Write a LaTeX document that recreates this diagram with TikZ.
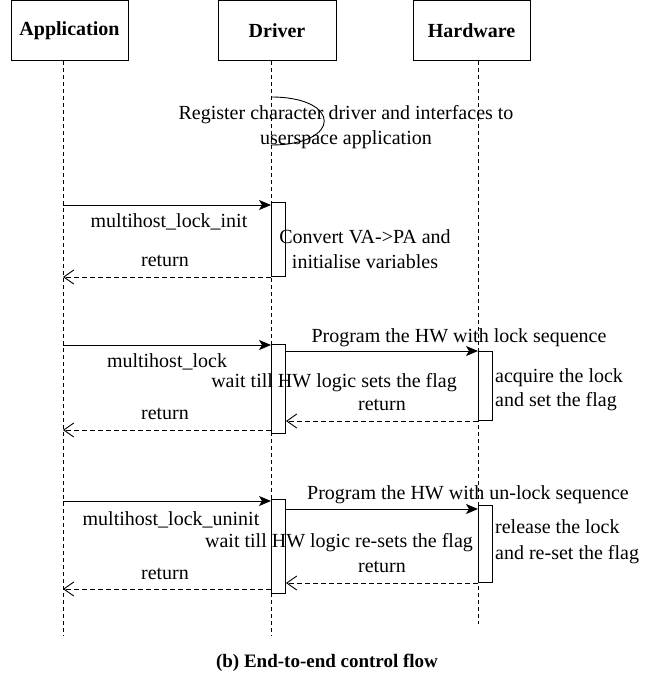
\documentclass[tikz,border=0pt]{standalone}
\usepackage{fontspec}
\setmainfont{Liberation Serif}
\usetikzlibrary{arrows.meta}

\begin{document}
\begin{tikzpicture}[x=1pt,y=-1pt,
  txt/.style={inner sep=0pt, font=\fontsize{20}{25}\selectfont},
  header/.style={draw, line width=1pt, minimum width=117pt, minimum height=60pt,
    inner sep=0pt, font=\fontsize{20}{24}\selectfont\bfseries},
  lifeline/.style={line width=0.9pt, dash pattern=on 4pt off 3pt},
  actbox/.style={draw, fill=white, line width=1pt, minimum width=14pt,
    inner sep=0pt, anchor=north west},
  call/.style={line width=0.9pt, -{Stealth[length=12pt,width=10pt,inset=3pt]}},
  ret/.style={line width=0.9pt, dash pattern=on 5pt off 3pt,
    -{Straight Barb[length=10pt,width=14pt]}},
]
\useasboundingbox (0,0) rectangle (653,679);

% participants
\node[header] (appH) at (69.5,31) {Application};
\node[header, minimum width=118pt] (drvH) at (277,31) {Driver};
\node[header] (hwH) at (471.5,31) {Hardware};

% lifelines
\coordinate (appTop) at (63,61);  \coordinate (appEnd) at (63,636);
\coordinate (drvTop) at (271,61); \coordinate (drvEnd) at (271,636);
\coordinate (hwTop)  at (478,61); \coordinate (hwEnd)  at (478,624);
\draw[lifeline] (appTop) -- (appEnd);
\draw[lifeline] (drvTop) -- (drvEnd);
\draw[lifeline] (hwTop) -- (hwEnd);

% driver registration (self call)
\coordinate (selfA) at (271,97);
\coordinate (selfB) at (271,145);
\node[txt, align=center] (regTxt) at (346,127.5)
  {Register character driver and interfaces to\\userspace application};
\draw[line width=0.9pt] (selfA) .. controls (342,97) and (342,145) .. (selfB);

% activation boxes
\node[actbox, minimum height=74pt] (act1) at (271,202) {};
\node[actbox, minimum height=89pt] (act2) at (271,344) {};
\node[actbox, minimum height=94pt] (act3) at (271,499) {};
\node[actbox, minimum height=69pt] (hact2) at (478,351) {};
\node[actbox, minimum height=77pt] (hact3) at (478,505) {};

% init
\coordinate (m1) at (63,205);
\coordinate (r1) at (63,277);
\draw[call] (m1) -- (act1.west |- m1);
\draw[ret] (act1.west |- r1) -- (r1);
\node[txt] (m1Lbl) at (169,222) {multihost\_lock\_init};
\node[txt] (r1Lbl) at (165,261) {return};
\node[txt, align=center] (convTxt) at (365,249.5)
  {Convert VA->PA and\\initialise variables};

% lock
\coordinate (m2) at (63,345);
\coordinate (r2) at (63,430);
\draw[call] (m2) -- (act2.west |- m2);
\draw[call] (act2.east |- hact2.north west) -- (hact2.north west);
\draw[ret] (hact2.south west) -- (act2.east |- hact2.south west);
\draw[ret] (act2.west |- r2) -- (r2);
\node[txt] (m2Lbl) at (167,362) {multihost\_lock};
\node[txt] (c2Lbl) at (459,338) {Program the HW with lock sequence};
\node[txt] (w2Lbl) at (334,383) {wait till HW logic sets the flag};
\node[txt] (rr2Lbl) at (382,405) {return};
\node[txt] (r2Lbl) at (165,414) {return};
\node[txt, anchor=west, align=left, font=\fontsize{20}{24}\selectfont]
  (acqTxt) at (495,390) {acquire the lock\\and set the flag};

% unlock
\coordinate (m3) at (63,501);
\coordinate (c3) at (478,509);
\coordinate (r3) at (63,589);
\draw[call] (m3) -- (act3.west |- m3);
\draw[call] (act3.east |- c3) -- (c3);
\draw[ret] (hact3.south west) -- (act3.east |- hact3.south west);
\draw[ret] (act3.west |- r3) -- (r3);
\node[txt] (m3Lbl) at (171,520) {multihost\_lock\_uninit};
\node[txt] (c3Lbl) at (468,495) {Program the HW with un-lock sequence};
\node[txt] (w3Lbl) at (339,543) {wait till HW logic re-sets the flag};
\node[txt] (rr3Lbl) at (382,567) {return};
\node[txt] (r3Lbl) at (165,574) {return};
\node[txt, anchor=west, align=left, font=\fontsize{20}{26}\selectfont]
  (relTxt) at (495,542) {release the lock\\and re-set the flag};

% caption
\node[inner sep=0pt, font=\fontsize{19}{22}\selectfont\bfseries] (caption)
  at (327,663) {(b) End-to-end control flow};
\end{tikzpicture}
\end{document}
